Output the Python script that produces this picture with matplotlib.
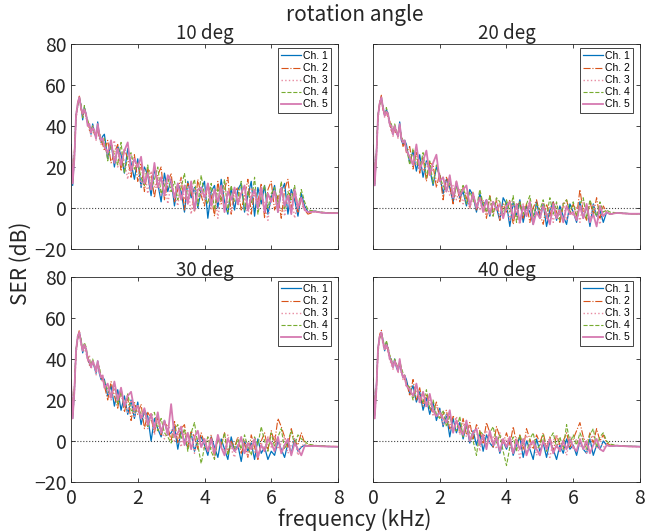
import numpy as np
import matplotlib
matplotlib.use("Agg")
import matplotlib.pyplot as plt

# frequency grid (kHz)
freq = np.round(np.concatenate([np.arange(0, 1.0, 0.05),
                                np.arange(1.0, 7.15, 0.1),
                                [7.3, 7.5, 7.7, 8.0]]), 3)

titles = ["10 deg", "20 deg", "30 deg", "40 deg"]
labels = ["Ch. 1", "Ch. 2", "Ch. 3", "Ch. 4", "Ch. 5"]

# ---- 10 deg ----
d10_ch1 = [31, 11, 25, 45, 50, 54, 50, 43, 49, 46, 41, 40, 36, 41, 37, 34, 42, 35, 32, 35,
           36, 24, 32, 20, 30, 26, 17, 29, 22, 14,
           24, 10, 20, 16, 6, 19, 12, 3, 17, 8,
           14, 1, 12, 8, -2, 13, 5, 10, 0, 9,
           13, -5, 8, 11, 0, 14, 3, -3, 10, -1,
           9, 12, -2, 6, 13, -4, 10, 2, 11, -3,
           5, 11, -2, 8, 12, -3, 9, 4, -4, 7,
           1, -2, -1.5, -2.2, -2.5, -2.6]
d10_ch2 = [28, 13, 27, 44, 51, 55, 48, 45, 48, 44, 42, 38, 37, 39, 36, 36, 39, 34, 33, 31,
           28, 33, 22, 27, 31, 18, 29, 24, 15, 26,
           13, 22, 8, 19, 17, 5, 16, 20, 4, 12,
           17, 3, 9, 15, -1, 12, 8, -2, 14, 6,
           1, 12, 6, -4, 13, 2, 9, 15, -3, 8,
           10, -1, 6, 14, -3, 8, 3, 12, -5, 9,
           13, -1, 6, -5, 9, 14, 0, 8, -2, 5,
           -1, -3, -1.8, -2.3, -2.4, -2.5]
d10_ch3 = [29, 12, 24, 43, 49, 53, 49, 44, 47, 45, 42, 39, 35, 40, 38, 33, 40, 36, 31, 33,
           31, 25, 29, 33, 20, 27, 23, 14, 26, 19,
           21, 11, 19, 7, 18, 10, 15, 6, 14, 2,
           12, 7, 1, 14, 4, 11, -3, 10, 3, 8,
           4, 10, -1, 9, -5, 7, 12, 2, -2, 9,
           1, 8, 5, -4, 10, 7, -2, 6, 2, -6,
           5, 9, -1, 12, -4, 4, 7, -5, 3, 1,
           0, -2, -1.6, -2.1, -2.4, -2.5]
d10_ch4 = [30, 14, 26, 46, 50, 53, 51, 44, 50, 45, 43, 40, 38, 40, 37, 35, 39, 37, 34, 32,
           34, 23, 31, 26, 21, 32, 17, 25, 27, 19,
           22, 15, 11, 21, 9, 14, 20, 7, 11, 15,
           8, 13, 4, 10, 17, 3, 9, 14, 1, 16,
           6, 2, 12, -1, 9, 4, 14, -2, 11, 3,
           4, 13, -1, 8, 2, 15, -3, 6, 11, 0,
           7, 10, 2, 13, -1, 8, 4, 11, 0, 9,
           3, -1, -1.5, -2.0, -2.3, -2.4]
d10_ch5 = [30, 12, 24, 45, 51, 54, 49, 46, 48, 46, 40, 41, 37, 39, 38, 34, 41, 36, 33, 34,
           30, 27, 33, 22, 29, 21, 28, 32, 18, 24,
           20, 25, 12, 17, 9, 22, 10, 15, 6, 16,
           13, 5, 12, 4, 11, 2, 13, -1, 9, 10,
           5, 12, 1, 9, 3, 11, -2, 8, 4, 10,
           2, 7, 11, -1, 5, 9, 0, 10, -2, 7,
           3, 8, -2, 10, 1, 6, -3, 9, 0, 5,
           -1, -2, -1.8, -2.2, -2.5, -2.5]

# ---- 20 deg ----
d20_ch1 = [30, 11, 26, 45, 51, 54, 49, 45, 48, 46, 41, 39, 36, 40, 37, 35, 42, 33, 31, 33,
           31, 22, 28, 18, 26, 15, 23, 19, 11, 20,
           16, 7, 14, 10, 3, 12, 5, 8, 1, 9,
           6, -2, 7, 1, 4, -4, 3, 0, -6, 5,
           2, -9, 3, -4, 4, -7, 1, -2, -8, 3,
           -5, 2, -9, -1, 3, -6, 1, -4, -8, 2,
           -2, -7, 3, -5, 1, -9, 2, -4, -1, -7,
           -2, -3, -2.3, -2.6, -2.8, -2.8]
d20_ch2 = [28, 12, 25, 44, 52, 55, 47, 46, 47, 44, 43, 37, 38, 38, 36, 37, 40, 34, 30, 32,
           27, 30, 19, 27, 17, 25, 13, 22, 21, 10,
           17, 4, 15, 11, 2, 13, 3, 10, 5, 0,
           8, -1, 5, 3, -5, 6, -2, 4, -6, 2,
           -2, 4, -8, 1, 3, -5, 2, -7, 0, 4,
           -3, -8, 2, -4, 3, -2, -7, 1, 4, -3,
           2, -4, 9, -2, -6, 3, -3, 5, -5, 1,
           -2, -3, -2.4, -2.7, -2.8, -2.9]
d20_ch3 = [29, 13, 24, 43, 50, 53, 48, 44, 46, 45, 40, 38, 35, 39, 38, 34, 39, 34, 32, 31,
           29, 24, 26, 21, 23, 18, 22, 16, 19, 13,
           14, 10, 13, 6, 11, 4, 9, 2, 8, 0,
           5, 2, -1, 4, -3, 3, -4, 5, -5, 1,
           2, -6, 3, -3, -8, 2, -2, 4, -6, 0,
           -2, 3, -5, 1, -7, 2, -4, 3, -6, -1,
           -4, 1, -7, 4, -2, -6, 2, -3, -8, 0,
           -2, -3, -2.5, -2.7, -2.9, -2.9]
d20_ch4 = [31, 12, 27, 46, 50, 53, 50, 45, 49, 46, 42, 41, 37, 41, 38, 35, 40, 35, 33, 32,
           30, 21, 29, 23, 19, 27, 15, 23, 12, 21,
           15, 11, 8, 13, 5, 10, 7, 11, 2, 8,
           4, 0, 9, 2, -2, 6, -4, 5, 3, -3,
           4, -2, 6, -7, 3, -3, 2, 6, -4, 2,
           -1, 4, -4, 5, -3, 3, -6, 2, 4, -2,
           3, -4, 2, 5, -5, 4, -1, -4, 3, -2,
           -1, -2, -2.3, -2.5, -2.7, -2.8]
d20_ch5 = [30, 11, 25, 45, 51, 54, 49, 45, 47, 46, 41, 40, 36, 40, 37, 35, 41, 34, 32, 33,
           28, 25, 21, 31, 19, 23, 28, 16, 22, 26,
           13, 15, 8, 16, 5, 13, 6, 9, 11, 1,
           7, 0, 5, -2, 4, -3, 3, -1, 2, -5,
           1, 3, -5, 2, -7, 1, -4, 3, -8, -2,
           -5, 1, -3, -8, 2, -5, -1, -7, 1, -3,
           -2, -6, 1, -5, 2, -7, -3, -9, 1, -4,
           -2, -3, -2.4, -2.6, -2.8, -2.8]

# ---- 30 deg ----
d30_ch1 = [29, 11, 24, 44, 50, 53, 49, 43, 47, 45, 40, 38, 36, 39, 36, 33, 39, 33, 30, 31,
           30, 22, 27, 17, 25, 15, 22, 13, 20, 11,
           19, 8, 15, 12, 0, 11, 6, 2, 10, 3,
           4, 7, -4, 5, 0, -3, 4, -5, 1, 2,
           -2, -7, 2, -3, -8, 1, -4, -9, 2, -5,
           -2, -10, 0, -5, -1, -9, 1, -6, -3, -9,
           -5, -7, 0, -4, -8, -1, -6, 1, -5, -3,
           -2, -2.5, -2.3, -2.5, -2.7, -2.8]
d30_ch2 = [27, 13, 25, 43, 51, 54, 48, 45, 46, 44, 41, 37, 37, 38, 37, 34, 38, 34, 31, 30,
           27, 20, 29, 22, 16, 26, 14, 21, 10, 19,
           13, 18, 6, 14, 11, 4, 12, 3, 9, 7,
           0, 10, -1, 6, 8, -3, 5, 2, -4, 4,
           -1, -5, 3, -8, 2, -2, 4, -6, 0, -3,
           2, -6, -1, -8, 3, -3, -9, 0, 4, -4,
           5, -1, 11, 7, 2, -3, 6, 0, -2, 4,
           -1, -2, -2.2, -2.5, -2.6, -2.7]
d30_ch3 = [28, 12, 23, 42, 49, 52, 47, 44, 45, 43, 39, 42, 35, 38, 37, 32, 37, 35, 30, 29,
           28, 24, 20, 26, 19, 22, 18, 14, 20, 12,
           18, 11, 13, 6, 14, 3, 10, 6, 1, 7,
           6, 0, 4, -3, 5, -2, 3, -6, 2, -2,
           -4, 2, -3, -7, 1, -2, -6, 3, -4, -8,
           -1, -4, 1, -7, -2, -5, -8, -1, -4, 2,
           -3, 3, -4, -1, 2, -6, -2, 1, -7, -2,
           -2, -2.5, -2.3, -2.6, -2.7, -2.8]
d30_ch4 = [30, 13, 26, 45, 50, 52, 50, 44, 48, 46, 41, 40, 37, 40, 37, 35, 38, 36, 32, 31,
           29, 25, 22, 28, 18, 24, 17, 23, 15, 14,
           17, 13, 15, 7, 12, 14, 5, 11, 4, 2,
           -1, 5, 8, 1, 6, -5, 4, 9, -2, -11,
           -3, 2, -5, -9, 1, -3, 4, -7, -1, -4,
           1, -4, 3, -3, -7, 2, -2, 7, 0, -5,
           4, -3, 2, 6, -4, 0, 5, -2, 3, 1,
           0, -1.5, -2.1, -2.4, -2.6, -2.7]
d30_ch5 = [29, 11, 24, 44, 51, 53, 48, 44, 47, 45, 40, 39, 36, 39, 37, 34, 39, 34, 31, 32,
           26, 28, 21, 29, 20, 26, 17, 22, 24, 15,
           17, 11, 16, 8, 13, 6, 14, 4, 10, 3,
           18, 2, 4, 7, -2, 4, -4, 2, 5, -3,
           1, -5, 1, -6, 3, -3, -7, 1, -2, -5,
           -3, 2, -6, -1, -4, 1, -8, -2, -5, 1,
           -1, -5, 2, -6, -2, 1, -7, -1, -4, -7,
           -2.5, -2.5, -2.4, -2.6, -2.7, -2.8]

# ---- 40 deg ----
d40_ch1 = [30, 12, 26, 45, 51, 53, 49, 44, 48, 45, 41, 39, 36, 40, 36, 34, 38, 34, 31, 32,
           30, 23, 27, 19, 24, 15, 21, 13, 19, 10,
           16, 7, 13, 2, 11, 4, 9, 1, 8, -1,
           5, -2, 4, -5, 3, -1, -3, 2, -6, 0,
           -4, 1, -7, -2, 2, -8, 0, -4, -9, 1,
           -5, -1, -8, 0, -4, -9, -2, -6, 1, -4,
           -2, -7, 0, -4, -6, 1, -7, -2, -4, 0,
           -2, -2.5, -2.3, -2.5, -2.6, -2.7]
d40_ch2 = [28, 13, 25, 44, 52, 54, 48, 45, 47, 44, 42, 38, 37, 38, 37, 36, 39, 33, 32, 30,
           29, 22, 30, 20, 26, 17, 23, 16, 14, 19,
           11, 13, 15, 6, 12, 10, 4, 11, 3, 9,
           1, 8, 5, -1, 9, 4, -3, 7, 2, -1,
           4, -2, 7, -1, 3, -4, 6, 1, -4, 3,
           -1, 4, -3, 2, -5, 3, -2, 0, 4, -3,
           1, 5, 9, 2, -2, 4, -1, 6, 0, 3,
           -1, -2, -2.2, -2.4, -2.6, -2.7]
d40_ch3 = [29, 11, 24, 43, 50, 52, 47, 44, 46, 43, 40, 37, 35, 39, 37, 33, 38, 35, 30, 31,
           26, 27, 21, 25, 18, 23, 16, 20, 12, 17,
           15, 8, 13, 7, 5, 12, 3, 9, 2, 7,
           4, 6, -5, 3, 5, -1, 2, -4, 4, -2,
           1, -3, -6, 2, -9, -1, 3, -4, 0, -7,
           -2, 1, -4, -8, 0, 3, -5, -2, -7, 2,
           -4, 1, -3, 2, -6, -1, 3, -4, 0, -3,
           -2, -2.5, -2.3, -2.5, -2.7, -2.8]
d40_ch4 = [31, 13, 26, 46, 50, 52, 50, 45, 49, 46, 42, 40, 37, 40, 38, 35, 39, 36, 33, 32,
           28, 26, 20, 27, 22, 19, 25, 16, 20, 13,
           11, 15, 7, 12, 6, 5, 12, 2, 7, 4,
           0, -7, 5, 3, -2, 4, 7, -1, 3, -5,
           -12, -3, 2, -5, 3, -2, -6, 1, 4, -4,
           -2, 3, -5, 1, 4, -3, 2, -4, 8, -1,
           3, -2, 4, 0, -4, 3, 6, -3, 2, 4,
           0, -1.5, -2.1, -2.4, -2.6, -2.7]
d40_ch5 = [29, 11, 25, 45, 51, 53, 48, 45, 47, 45, 40, 39, 36, 39, 37, 34, 40, 34, 31, 32,
           27, 25, 22, 28, 19, 24, 17, 23, 15, 12,
           14, 11, 9, 15, 4, 10, 6, 3, 10, 0,
           4, 6, -2, 3, -4, 5, -2, 2, -5, 1,
           -3, 2, -6, 0, -4, 1, -7, -2, 0, -4,
           -7, 0, -4, 1, -6, -2, -5, 0, -4, 1,
           -3, -5, 1, -4, 0, -6, -2, 1, -4, -5,
           -2, -2.5, -2.3, -2.5, -2.7, -2.8]

panels = [
    [d10_ch1, d10_ch2, d10_ch3, d10_ch4, d10_ch5],
    [d20_ch1, d20_ch2, d20_ch3, d20_ch4, d20_ch5],
    [d30_ch1, d30_ch2, d30_ch3, d30_ch4, d30_ch5],
    [d40_ch1, d40_ch2, d40_ch3, d40_ch4, d40_ch5],
]

colors = ["#0072BD", "#D95319", "#E88AA0", "#77AC30", "#D67AB1"]
styles = ["-", "-.", ":", "--", "-"]
widths = [0.9, 0.8, 1.0, 0.8, 1.3]

plt.rcParams['font.family'] = ['Noto Sans CJK JP', 'DejaVu Sans']

fig = plt.figure(figsize=(6.58, 5.32), dpi=100)
W, H = 658, 532
lefts = [71, 373]
tops = [44, 277]
aw, ah = 267, 205

for i in range(4):
    r, c = divmod(i, 2)
    l = lefts[c]
    t = tops[r]
    ax = fig.add_axes([l / W, 1 - (t + ah) / H, aw / W, ah / H])
    for k in range(5):
        ax.plot(freq, panels[i][k], color=colors[k], ls=styles[k], lw=widths[k],
                label=labels[k])
    ax.axhline(0, color="#444444", ls=":", lw=0.8, zorder=0.5)
    ax.set_xlim(0, 8)
    ax.set_ylim(-20, 80)
    ax.set_xticks([0, 2, 4, 6, 8])
    ax.set_yticks([-20, 0, 20, 40, 60, 80])
    ax.tick_params(direction="in", top=True, right=True, length=3, width=0.6,
                   labelsize=14, colors="#262626")
    ax.tick_params(axis="y", pad=3)
    ax.tick_params(axis="x", pad=4)
    for s in ax.spines.values():
        s.set_linewidth(0.6)
        s.set_color("#262626")
    if r == 0:
        ax.set_xticklabels([])
    if c == 1:
        ax.set_yticklabels([])
    ax.set_title(titles[i], fontsize=13.5, pad=1, color="#262626")
    leg = ax.legend(loc="upper right", bbox_to_anchor=(1 - 7 / aw, 1 - 4 / ah),
                    borderaxespad=0, handlelength=1.9, handletextpad=0.2,
                    labelspacing=0.2, borderpad=0.3, fancybox=False, framealpha=1,
                    edgecolor="#262626", prop={'family': 'Liberation Sans', 'size': 7.5})
    leg.get_frame().set_linewidth(0.6)

fig.text(355 / W, 1 - 15 / H, "rotation angle", ha="center", va="center",
         fontsize=15, color="#262626")
fig.text(355 / W, 1 - 520 / H, "frequency (kHz)", ha="center", va="center",
         fontsize=15, color="#262626")
fig.text(21 / W, 1 - 263 / H, "SER (dB)", ha="center", va="center",
         rotation=90, fontsize=15, color="#262626")

fig.savefig("out.png", dpi=100)
